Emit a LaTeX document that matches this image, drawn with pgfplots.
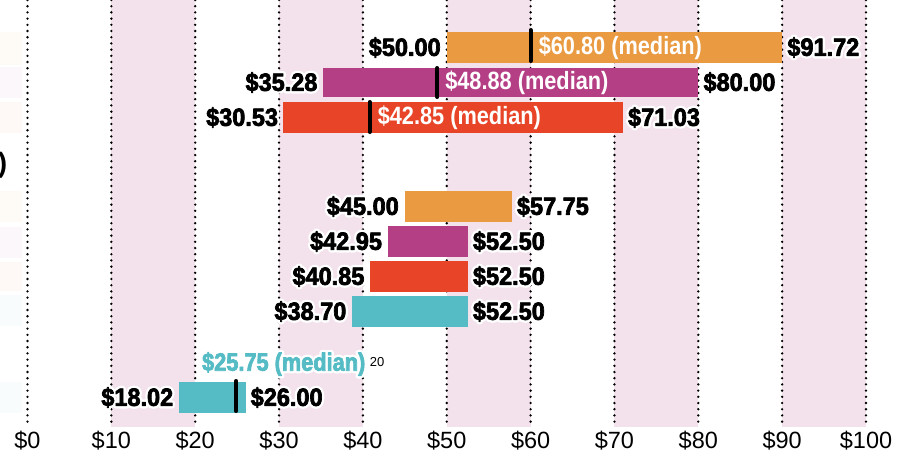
\documentclass[border=0pt]{standalone}
\usepackage{fontspec}
\setmainfont{Liberation Sans}
\newfontfamily\labfont{Liberation Sans}[FakeStretch=0.94]
\newfontfamily\medfont{Liberation Sans}[FakeStretch=0.87]
\usepackage{pgfplots}
\pgfplotsset{compat=1.18}
\definecolor{cOr}{HTML}{EA9A41}
\definecolor{cPu}{HTML}{B53F85}
\definecolor{cRe}{HTML}{E84427}
\definecolor{cTe}{HTML}{55BBC4}
\definecolor{cBand}{HTML}{F3E1EC}
% #1 = rgb of the text for a slight fake emboldening, #2 = text
\newcommand{\halo}[2]{\leavevmode\rlap{\special{pdf:literal direct 1 j 5.4 w 1 1 1 RG 2 Tr}#2\special{pdf:literal direct 0 Tr}}%
  \special{pdf:literal direct 1 j 0.7 w #1 RG 2 Tr}#2\special{pdf:literal direct 0 Tr}}
\newcommand{\blab}[1]{{\labfont\fontsize{25}{25}\selectfont\bfseries\halo{0 0 0}{#1}}}
\newcommand{\wlab}[1]{{\medfont\fontsize{25}{25}\selectfont\bfseries\color{white}#1}}
\begin{document}
\begin{tikzpicture}
\begin{axis}[
  at={(0,0)}, anchor=north west,
  scale only axis, width=907pt, height=427pt,
  xmin=-3.28, xmax=104.89, ymin=0, ymax=427, y dir=reverse,
  axis line style={draw=none}, major tick length=0,
  xtick={0,10,...,100},
  xticklabels={\$0,\$10,\$20,\$30,\$40,\$50,\$60,\$70,\$80,\$90,\$100},
  xticklabel style={font=\fontsize{23.5}{24}\selectfont, anchor=center, yshift=-14pt},
  ytick=\empty,
  xmajorgrids,
  grid style={black, line width=2.6pt, line cap=round, dash pattern=on 0pt off 6.2pt},
  set layers, clip=false,
]
% pink bands
\addplot[on layer=axis background, fill=cBand, draw=none] coordinates {(10,0) (20,0) (20,427) (10,427)} -- cycle;
\addplot[on layer=axis background, fill=cBand, draw=none] coordinates {(30,0) (40,0) (40,427) (30,427)} -- cycle;
\addplot[on layer=axis background, fill=cBand, draw=none] coordinates {(50,0) (60,0) (60,427) (50,427)} -- cycle;
\addplot[on layer=axis background, fill=cBand, draw=none] coordinates {(70,0) (80,0) (80,427) (70,427)} -- cycle;
\addplot[on layer=axis background, fill=cBand, draw=none] coordinates {(90,0) (100,0) (100,427) (90,427)} -- cycle;
% faint left label boxes
\addplot[fill=cOr, fill opacity=0.05, draw=none] coordinates {(-3.28,32) (-0.6,32) (-0.6,65) (-3.28,65)} -- cycle;
\addplot[fill=cPu, fill opacity=0.04, draw=none] coordinates {(-3.28,67) (-0.6,67) (-0.6,98) (-3.28,98)} -- cycle;
\addplot[fill=cRe, fill opacity=0.04, draw=none] coordinates {(-3.28,102) (-0.6,102) (-0.6,133) (-3.28,133)} -- cycle;
\addplot[fill=cOr, fill opacity=0.05, draw=none] coordinates {(-3.28,191) (-0.6,191) (-0.6,222) (-3.28,222)} -- cycle;
\addplot[fill=cPu, fill opacity=0.04, draw=none] coordinates {(-3.28,227) (-0.6,227) (-0.6,258) (-3.28,258)} -- cycle;
\addplot[fill=cRe, fill opacity=0.04, draw=none] coordinates {(-3.28,262) (-0.6,262) (-0.6,291) (-3.28,291)} -- cycle;
\addplot[fill=cTe, fill opacity=0.04, draw=none] coordinates {(-3.28,295) (-0.6,295) (-0.6,326) (-3.28,326)} -- cycle;
\addplot[fill=cTe, fill opacity=0.04, draw=none] coordinates {(-3.28,382) (-0.6,382) (-0.6,413) (-3.28,413)} -- cycle;
% group 1
\addplot[fill=cOr, draw=none] coordinates {(50,32) (90,32) (90,63) (50,63)} -- cycle;
\addplot[fill=cPu, draw=none] coordinates {(35.28,68) (80,68) (80,97) (35.28,97)} -- cycle;
\addplot[fill=cRe, draw=none] coordinates {(30.53,102) (71.03,102) (71.03,133) (30.53,133)} -- cycle;
% group 2
\addplot[fill=cOr, draw=none] coordinates {(45,191) (57.75,191) (57.75,222) (45,222)} -- cycle;
\addplot[fill=cPu, draw=none] coordinates {(42.95,226) (52.5,226) (52.5,257) (42.95,257)} -- cycle;
\addplot[fill=cRe, draw=none] coordinates {(40.85,261) (52.5,261) (52.5,292) (40.85,292)} -- cycle;
\addplot[fill=cTe, draw=none] coordinates {(38.7,296) (52.5,296) (52.5,327) (38.7,327)} -- cycle;
% group 3
\addplot[fill=cTe, draw=none] coordinates {(18.02,382) (26,382) (26,413) (18.02,413)} -- cycle;
% medians
\addplot[black, line width=4pt, line cap=round] coordinates {(60,30) (60,61)};
\addplot[black, line width=4pt, line cap=round] coordinates {(48.88,68) (48.88,97)};
\addplot[black, line width=4pt, line cap=round] coordinates {(40.8,102) (40.8,132)};
\addplot[black, line width=4pt, line cap=round] coordinates {(24.9,381) (24.9,411)};
% labels
\node[anchor=east, inner sep=0] at (axis cs:49.3,47.5) {\blab{\$50.00}};
\node[anchor=west, inner sep=0] at (axis cs:90.6,47.5) {\blab{\$91.72}};
\node[anchor=west, inner sep=0] at (axis cs:60.95,47.5) {\wlab{\$60.80 (median)}};
\node[anchor=east, inner sep=0] at (axis cs:34.6,82.5) {\blab{\$35.28}};
\node[anchor=west, inner sep=0] at (axis cs:80.6,82.5) {\blab{\$80.00}};
\node[anchor=west, inner sep=0] at (axis cs:49.8,82.5) {\wlab{\$48.88 (median)}};
\node[anchor=east, inner sep=0] at (axis cs:29.9,117.5) {\blab{\$30.53}};
\node[anchor=west, inner sep=0] at (axis cs:71.6,117.5) {\blab{\$71.03}};
\node[anchor=west, inner sep=0] at (axis cs:41.75,117.5) {\wlab{\$42.85 (median)}};
\node[anchor=east, inner sep=0] at (axis cs:-2.4,165) {\fontsize{28}{28}\selectfont\bfseries )};
\node[anchor=east, inner sep=0] at (axis cs:44.3,206.5) {\blab{\$45.00}};
\node[anchor=west, inner sep=0] at (axis cs:58.35,206.5) {\blab{\$57.75}};
\node[anchor=east, inner sep=0] at (axis cs:42.3,241.5) {\blab{\$42.95}};
\node[anchor=west, inner sep=0] at (axis cs:53.1,241.5) {\blab{\$52.50}};
\node[anchor=east, inner sep=0] at (axis cs:40.2,276.5) {\blab{\$40.85}};
\node[anchor=west, inner sep=0] at (axis cs:53.1,276.5) {\blab{\$52.50}};
\node[anchor=east, inner sep=0] at (axis cs:38.05,311.5) {\blab{\$38.70}};
\node[anchor=west, inner sep=0] at (axis cs:53.1,311.5) {\blab{\$52.50}};
\node[anchor=west, inner sep=0] at (axis cs:20.8,364) {{\medfont\fontsize{25}{25}\selectfont\bfseries\color{cTe}\halo{0.333 0.733 0.769}{\$25.75 (median)}}};
\node[anchor=west, inner sep=0] at (axis cs:40.8,362) {{\fontsize{13}{13}\selectfont 20}};
\node[anchor=east, inner sep=0] at (axis cs:17.4,397.5) {\blab{\$18.02}};
\node[anchor=west, inner sep=0] at (axis cs:26.6,397.5) {\blab{\$26.00}};
\end{axis}
\pgfresetboundingbox
\path[use as bounding box] (0,0) rectangle (907pt,-464pt);
\end{tikzpicture}
\end{document}
